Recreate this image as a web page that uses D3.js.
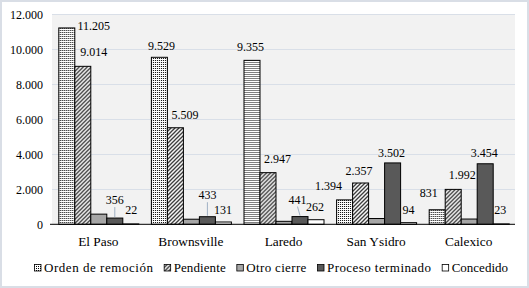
<!DOCTYPE html>
<html><head><meta charset="utf-8">
<script src="https://cdn.jsdelivr.net/npm/d3@7"></script>
<style>html,body{margin:0;padding:0;background:#fff}svg{display:block}
svg text{font-family:"Liberation Serif","Times New Roman",serif !important;fill:#000}</style>
</head><body>
<script>
const categories = ["El Paso","Brownsville","Laredo","San Ysidro","Calexico"];
const seriesNames = ["Orden de remoción","Pendiente","Otro cierre","Proceso terminado","Concedido"];
const orden = [11205, 9529, 9355, 1394, 831];
const pendiente = [9014, 5509, 2947, 2357, 1992];
const otroCierre = [580, 290, 170, 330, 300];
const procesoTerminado = [356, 433, 441, 3502, 3454];
const concedido = [22, 131, 262, 94, 23];
const showLabel = [true, true, false, true, true];
const yTicks = [0, 2000, 4000, 6000, 8000, 10000, 12000];
// label nudges (style): [dx, lift above bar top]
const labelNudge = [
  [[27,2],[2,11],[-1.5,13],[-16,14],[-8.5,16.5]],
  [[11,14],[9.5,13],[9.5,14],[-1.5,12],[9,14]],
  null,
  [[0,18],[0,21.5],[-2.5,17],[-1,10],[-1,11]],
  [[0.5,13.6],[-0.5,11.7],[-1,12.4],[0,12.4],[-1,13.6]]
];
const leader = [true,true,true,false,false];
// legend minimum text widths (style)
const legendTextWidth = [109, 52, 60, 104, 54];

const allSeries = [orden, pendiente, otroCierre, procesoTerminado, concedido];
const W = 529, H = 288;
const svg = d3.select("body").append("svg").attr("width", W).attr("height", H);
const defs = svg.append("defs");
// dotted pattern
const pd = defs.append("pattern").attr("id","pDots").attr("patternUnits","userSpaceOnUse").attr("width",2).attr("height",2);
pd.append("rect").attr("width",2).attr("height",2).attr("fill","#fff");
pd.append("rect").attr("width",1).attr("height",1).attr("fill","#000");
// diagonal stripes
const ps = defs.append("pattern").attr("id","pDiag").attr("patternUnits","userSpaceOnUse").attr("width",4).attr("height",4);
ps.append("rect").attr("width",4).attr("height",4).attr("fill","#fff");
ps.append("path").attr("d","M-1,1 L1,-1 M0,4 L4,0 M3,5 L5,3").attr("stroke","#333").attr("stroke-width",1.3);

const fills = ["url(#pDots)","url(#pDiag)","#a6a6a6","#595959","#ffffff"];

// outer border
svg.append("rect").attr("x",1).attr("y",1).attr("width",W-2).attr("height",H-2)
  .attr("fill","#fff").attr("stroke","#d9dee6").attr("stroke-width",2);

const plotL = 52, plotR = 515, plotT = 14, plotB = 224.3;
svg.append("rect").attr("x",plotL).attr("y",plotT).attr("width",plotR-plotL).attr("height",plotB-plotT).attr("fill","#f2f2f2");

const y = d3.scaleLinear().domain([0,12000]).range([plotB, plotT]);
const x0 = d3.scaleBand().domain(categories).range([plotL, plotR]).paddingInner(0.136).paddingOuter(0.068);
const x1 = d3.scaleBand().domain(d3.range(5)).range([0, x0.bandwidth()]);

const fmt = v => d3.format(",")(v).replace(/,/g, ".");

// gridlines
svg.append("g").selectAll("line").data(yTicks.filter(t => t > 0)).join("line")
  .attr("x1", plotL).attr("x2", plotR)
  .attr("y1", d => Math.round(y(d)) + 0.5).attr("y2", d => Math.round(y(d)) + 0.5)
  .attr("stroke", "#d9dfe8").attr("stroke-width", 1);

// y axis labels
const yAxis = d3.axisLeft(y).tickValues(yTicks).tickFormat(fmt).tickSize(0).tickPadding(0);
const yg = svg.append("g").attr("transform", `translate(${43},0)`).call(yAxis);
yg.select(".domain").remove();
yg.selectAll("text").attr("font-size","12px").attr("dy","0.34em");

// bars
const groups = svg.append("g").selectAll("g").data(categories).join("g")
  .attr("transform", d => `translate(${x0(d)},0)`);
allSeries.forEach((vals, s) => {
  groups.append("rect")
    .attr("x", (d,i) => x1(s) + 0.5)
    .attr("y", (d,i) => y(vals[i]))
    .attr("width", x1.bandwidth())
    .attr("height", (d,i) => plotB - y(vals[i]))
    .attr("fill", fills[s]).attr("stroke", "#000").attr("stroke-width", 1);
});

// axis line
svg.append("line").attr("x1", 50).attr("x2", plotR).attr("y1", plotB).attr("y2", plotB).attr("stroke","#000").attr("stroke-width",1);

// data labels
const lab = svg.append("g").attr("font-size","12px");
allSeries.forEach((vals, s) => {
  if (!showLabel[s]) return;
  categories.forEach((c, i) => {
    const cx = x0(c) + x1(s) + x1.bandwidth()/2 + 0.5;
    const [dx, lift] = labelNudge[s][i];
    const top = y(vals[i]);
    const cy = top - lift;
    lab.append("text").attr("x", cx + dx).attr("y", cy).attr("dy","0.34em").attr("text-anchor","middle").text(fmt(vals[i]));
    if (s === 3 && leader[i]) {
      lab.append("line").attr("x1", cx + dx).attr("y1", cy + 7).attr("x2", cx).attr("y2", top - 1)
        .attr("stroke","#9fb0c4").attr("stroke-width",1);
    }
  });
});

// category labels
const xAxis = d3.axisBottom(x0).tickSize(0).tickPadding(0);
const xg = svg.append("g").attr("transform", `translate(0,${241})`).call(xAxis);
xg.select(".domain").remove();
xg.selectAll("text").attr("font-size","13.33px").attr("dy","0.34em");

// legend
const leg = svg.append("g");
const items = leg.selectAll("g").data(seriesNames).join("g");
items.append("rect").attr("x",0.5).attr("y",-3.5).attr("width",6.5).attr("height",6.5)
  .attr("fill",(d,i)=>fills[i]).attr("stroke","#000").attr("stroke-width",0.8);
const widths = [];
items.append("text").attr("x",10).attr("y",0).attr("dy","0.34em")
  .attr("font-size","13px")
  .text(d=>d)
  .each(function(d,i){
    const nat = this.getComputedTextLength();
    const target = legendTextWidth[i];
    if (target > nat) {
      d3.select(this).attr("textLength", target).attr("lengthAdjust", "spacing");
      widths[i] = target;
    } else widths[i] = nat;
  });
const legStart = 34, legEnd = 508;
const sumW = d3.sum(widths) + 10 * widths.length;
const gap = Math.max(5, (legEnd - legStart - sumW) / (widths.length - 1));
const totalW = sumW + gap * (widths.length - 1);
let xpos = (legStart + legEnd) / 2 - totalW / 2;
items.each(function(d,i){
  d3.select(this).attr("transform", `translate(${xpos},0)`);
  xpos += 10 + widths[i] + gap;
});
leg.attr("transform", `translate(0,${268})`);
</script>
</body></html>
